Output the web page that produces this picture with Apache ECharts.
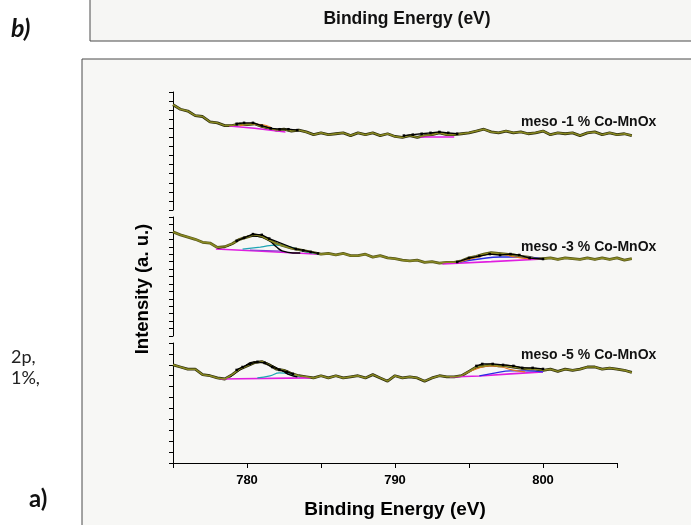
<!DOCTYPE html>
<html>
<head>
<meta charset="utf-8">
<script src="https://cdn.jsdelivr.net/npm/echarts@6/dist/echarts.min.js"></script>
<style>
  html, body { margin: 0; padding: 0; background: #ffffff; }
  #chart { width: 691px; height: 525px; }
</style>
</head>
<body>
<div id="chart"></div>
<script>
// Binding energy grid (eV) shared by the three spectra
const energy = [775, 775.5, 776, 776.5, 777, 777.5, 778, 778.5, 779, 779.5,
  780, 780.5, 781, 781.5, 782, 782.5, 783, 783.5, 784, 784.5,
  785, 785.5, 786, 786.5, 787, 787.5, 788, 788.5, 789, 789.5,
  790, 790.5, 791, 791.5, 792, 792.5, 793, 793.5, 794, 794.5,
  795, 795.5, 796, 796.5, 797, 797.5, 798, 798.5, 799, 799.5,
  800, 800.5, 801, 801.5, 802, 802.5, 803, 803.5, 804, 804.5,
  805, 805.5, 806];

// Sample names, top to bottom
const sampleNames = ['meso -1 % Co-MnOx', 'meso -3 % Co-MnOx', 'meso -5 % Co-MnOx'];

// Bottom axis tick labels
const xTickLabels = [780, 790, 800];

// Co 2p spectra (a. u.)
const raw1 = [116, 111, 109, 104, 103, 97, 96, 93, 93, 95,
  94, 95, 92, 90, 88, 89, 87, 88, 86, 83,
  85, 83, 84, 85, 82, 85, 83, 85, 82, 84,
  81, 80, 82, 80, 82, 83, 85, 83, 83, 84,
  85, 87, 89, 86, 85, 87, 85, 86, 84, 85,
  87, 83, 85, 84, 85, 82, 85, 86, 83, 85,
  83, 84, 82];
const raw2 = [140, 136, 133, 130, 126, 125, 119, 120, 124, 130,
  133, 136, 134, 129, 124, 121, 118, 116, 114, 112,
  110, 111, 109, 111, 108, 108, 110, 106, 108, 105,
  104, 102, 101, 102, 99, 100, 98, 99, 99, 101,
  105, 107, 110, 112, 111, 110, 109, 107, 106, 104,
  104, 105, 103, 105, 104, 103, 105, 103, 105, 103,
  105, 102, 104];
const raw3 = [90, 88, 86, 86, 81, 80, 78, 77, 81, 86,
  89, 92, 93, 90, 86, 85, 82, 80, 79, 78,
  80, 78, 80, 78, 79, 80, 78, 81, 78, 75,
  80, 78, 79, 78, 75, 78, 80, 79, 79, 80,
  84, 88, 89, 90, 89, 89, 88, 87, 86, 86,
  85, 86, 84, 86, 85, 86, 88, 88, 86, 87,
  86, 85, 83];

// Peak fitting, 1 % sample
const fit1BaseE = [778.8, 780.5, 782.6];
const fit1Base = [92.5, 90, 86];
const fit1OrangeE = [779.5, 780.2, 781, 781.6];
const fit1Orange = [92.5, 94.5, 94, 91];
const fit1PtsE = [779.3, 779.8, 780.4, 781, 781.6, 782.2, 782.8, 783.4];
const fit1Pts = [95, 96, 96, 93, 90, 89, 89, 88];
const fit1Base2E = [791.7, 794];
const fit1Base2 = [80.4, 80.4];
const fit1Pts2E = [790.6, 791.2, 791.8, 792.4, 793, 793.6, 794.2];
const fit1Pts2 = [82, 83, 84, 85, 86, 85, 84];

// Peak fitting, 3 % sample
const fit2BaseE = [777.9, 781, 784.9];
const fit2Base = [117, 114, 110];
const fit2PurpleE = [780.2, 782.4];
const fit2Purple = [115.6, 114.2];
const fit2MainE = [778, 778.85, 779.7, 780.4, 781, 781.55, 782, 782.4, 783.1, 783.6];
const fit2Main = [118.3, 122.3, 131.7, 134.4, 133, 127.7, 119.6, 114.2, 111.6, 111.6];
const fit2CyanE = [779.7, 780.9, 782, 782.9, 784, 784.9];
const fit2Cyan = [116.9, 119.6, 122.3, 119.6, 112.9, 110.2];
const fit2PtsE = [779.3, 779.8, 780.4, 781, 781.5, 783.3, 783.8, 784.3, 784.8];
const fit2Pts = [128, 132, 137, 136, 131, 117, 115, 113, 111];
const fit2Base2E = [793.2, 796.5, 800];
const fit2Base2 = [96.8, 100, 103.5];
const fit2BlueE = [794.4, 795.7, 797.1, 798.4, 800];
const fit2Blue = [99.5, 103.5, 106.2, 106.2, 103.5];
const fit2OrangeE = [794.4, 795.6, 796.4, 797.1, 798.1, 799.1];
const fit2Orange = [99.5, 106.2, 110.2, 110.2, 106.2, 103.5];
const fit2Pts2E = [794.2, 795, 795.7, 796.4, 797.1, 797.8, 798.4, 799.1, 800];
const fit2Pts2 = [99.5, 104.8, 107.5, 110.2, 108.9, 110.2, 108.9, 104.8, 103.5];

// Peak fitting, 5 % sample
const fit3BaseE = [778.2, 784.3];
const fit3Base = [77, 78];
const fit3MainE = [778.85, 779.7, 780.5, 781, 781.7, 782.4, 782.9, 783.4];
const fit3Main = [78.9, 87.2, 92.7, 92.7, 89, 84.4, 80.7, 78.9];
const fit3CyanE = [780.7, 781.55, 782.2, 782.9, 783.6];
const fit3Cyan = [78, 79.8, 82.6, 81.7, 78.9];
const fit3PtsE = [779.3, 779.7, 780.2, 780.7, 781.2, 781.7, 782.2, 782.7, 783.1];
const fit3Pts = [85.3, 88, 90.8, 92.7, 91.7, 88, 85.3, 83.5, 81.7];
const fit3Base2E = [793.7, 795.7, 797.8, 800];
const fit3Base2 = [78.9, 79.8, 81.7, 83.5];
const fit3BlueE = [795.7, 796.8, 797.8, 798.8, 800];
const fit3Blue = [79.8, 82.6, 84.4, 84.4, 83.5];
const fit3OrangeE = [794.7, 795.5, 796.4, 797.2, 797.9, 798.8];
const fit3Orange = [81.7, 86.2, 89, 88, 85.3, 83.5];
const fit3Pts2E = [795.5, 795.9, 796.6, 797.3, 798, 798.6, 799.3, 800];
const fit3Pts2 = [89, 90.8, 90.8, 89.9, 89, 87.2, 87.2, 86.2];

// Vertical range of each stacked panel
const panelMax = [130, 160, 110];

const pairs = (xs, ys) => xs.map((x, i) => [x, ys[i]]);

const OLIVE = '#8a8a22';
const MAGENTA = '#e01ee0';
const BLUE = '#2a2ae6';
const CYAN = '#1ea5b4';
const ORANGE = '#e6781e';
const PURPLE = '#8a3cd2';

// Axis frame spans 775-805 eV; the spectra run on to 806 eV, so they sit
// in companion grids (3..5) with the same scale but one more eV of width.
const X_MIN = 775, X_MAX = 805, DATA_MAX = 806;
const PLOT_LEFT = 173, PLOT_WIDTH = 444;
const PX_PER_EV = PLOT_WIDTH / (X_MAX - X_MIN);

function line(panel, data, color, width, extra) {
  const g = panel + 3;
  return Object.assign({
    type: 'line', xAxisIndex: g, yAxisIndex: g, data: data,
    showSymbol: false, symbol: 'none', clip: false, silent: true,
    lineStyle: { color: color, width: width }
  }, extra || {});
}
function dots(panel, data) {
  return line(panel, data, '#000', 1.3, {
    showSymbol: true, symbol: 'rect', symbolSize: 2.5,
    itemStyle: { color: '#000' }
  });
}
function spectrum(panel, values, edge) {
  const d = pairs(energy, values);
  return [line(panel, d, edge, 2.8), line(panel, d, OLIVE, 1.5)];
}

const s1 = spectrum(0, raw1, '#2a2a0c');
const s2 = spectrum(1, raw2, '#55551a');
const s3 = spectrum(2, raw3, '#2a2a0c');

const series = [
  // 1 %
  s1[0],
  line(0, pairs(fit1BaseE, fit1Base), MAGENTA, 1.5),
  line(0, pairs(fit1OrangeE, fit1Orange), ORANGE, 1.2, { smooth: true }),
  line(0, pairs(fit1Base2E, fit1Base2), MAGENTA, 1.5),
  s1[1],
  dots(0, pairs(fit1PtsE, fit1Pts)),
  dots(0, pairs(fit1Pts2E, fit1Pts2)),
  // 3 %
  s2[0],
  line(1, pairs(fit2BaseE, fit2Base), MAGENTA, 1.6),
  line(1, pairs(fit2PurpleE, fit2Purple), PURPLE, 1.2),
  line(1, pairs(fit2CyanE, fit2Cyan), CYAN, 1.2, { smooth: true }),
  line(1, pairs(fit2MainE, fit2Main), '#000', 1.4, { smooth: true }),
  line(1, pairs(fit2Base2E, fit2Base2), MAGENTA, 1.6),
  line(1, pairs(fit2BlueE, fit2Blue), BLUE, 1.4, { smooth: true }),
  line(1, pairs(fit2OrangeE, fit2Orange), ORANGE, 1.2, { smooth: true }),
  s2[1],
  dots(1, pairs(fit2PtsE, fit2Pts)),
  dots(1, pairs(fit2Pts2E, fit2Pts2)),
  // 5 %
  s3[0],
  line(2, pairs(fit3BaseE, fit3Base), MAGENTA, 1.6),
  line(2, pairs(fit3CyanE, fit3Cyan), CYAN, 1.2, { smooth: true }),
  line(2, pairs(fit3MainE, fit3Main), '#000', 1.4, { smooth: true }),
  line(2, pairs(fit3Base2E, fit3Base2), MAGENTA, 1.6),
  line(2, pairs(fit3BlueE, fit3Blue), BLUE, 1.2, { smooth: true }),
  line(2, pairs(fit3OrangeE, fit3Orange), ORANGE, 1.2, { smooth: true }),
  s3[1],
  dots(2, pairs(fit3PtsE, fit3Pts)),
  dots(2, pairs(fit3Pts2E, fit3Pts2))
];

const panelTops = [92, 217, 343];
const panelHeights = [118, 119, 120];
const labelY = [122, 247, 355];

const frameGrids = panelTops.map((t, i) => ({ left: PLOT_LEFT, top: t, width: PLOT_WIDTH, height: panelHeights[i] }));
const dataGrids = panelTops.map((t, i) => ({
  left: PLOT_LEFT, top: t, width: PX_PER_EV * (DATA_MAX - X_MIN), height: panelHeights[i]
}));

const frameX = [0, 1, 2].map(i => ({
  type: 'value', gridIndex: i, min: X_MIN, max: X_MAX, interval: 5,
  show: i === 2,
  axisLine: { show: true, onZero: false, lineStyle: { color: '#000', width: 1 } },
  axisTick: { show: true, inside: false, length: 5, lineStyle: { color: '#000' } },
  splitLine: { show: false },
  axisLabel: {
    show: true, margin: 11, color: '#000',
    fontFamily: 'Liberation Sans', fontSize: 13, fontWeight: 'bold',
    formatter: v => (xTickLabels.indexOf(v) >= 0 ? String(v) : '')
  },
  name: i === 2 ? 'Binding Energy (eV)' : '',
  nameLocation: 'middle', nameGap: 37,
  nameTextStyle: { color: '#000', fontFamily: 'Liberation Sans', fontSize: 19, fontWeight: 'bold' }
}));
const dataX = [0, 1, 2].map(i => ({
  type: 'value', gridIndex: i + 3, min: X_MIN, max: DATA_MAX, show: false,
  splitLine: { show: false }
}));

const frameY = [0, 1, 2].map(i => ({
  type: 'value', gridIndex: i, min: 0, max: panelMax[i], interval: 10,
  axisLine: { show: true, onZero: false, lineStyle: { color: '#000', width: 1 } },
  axisTick: { show: true, inside: false, length: 4, lineStyle: { color: '#000' } },
  axisLabel: { show: false },
  splitLine: { show: false }
}));
const dataY = [0, 1, 2].map(i => ({
  type: 'value', gridIndex: i + 3, min: 0, max: panelMax[i], show: false,
  splitLine: { show: false }
}));

const graphics = [
  // upper framed panel
  { type: 'rect', z: -10, shape: { x: 90, y: -5, width: 700, height: 46 },
    style: { fill: '#f6f6f4', stroke: '#4a4a4a', lineWidth: 1 } },
  { type: 'text', z: 10, x: 407, y: 19,
    style: { text: 'Binding Energy (eV)', fill: '#111', font: 'bold 17.5px "Liberation Sans"',
             textAlign: 'center', textVerticalAlign: 'middle' } },
  { type: 'text', z: 10, x: 11, y: 29,
    style: { text: 'b)', fill: '#111', font: 'italic bold 25px Lato',
             textAlign: 'left', textVerticalAlign: 'middle' } },
  // main framed panel
  { type: 'rect', z: -10, shape: { x: 82, y: 59, width: 700, height: 500 },
    style: { fill: '#f7f7f5', stroke: '#4a4a4a', lineWidth: 1 } },
  { type: 'text', z: 10, x: 143, y: 289, rotation: Math.PI / 2,
    style: { text: 'Intensity (a. u.)', fill: '#000', font: 'bold 18.5px "Liberation Sans"',
             textAlign: 'center', textVerticalAlign: 'middle' } },
  { type: 'text', z: 10, x: 11, y: 357,
    style: { text: '2p,', fill: '#222', font: '18px Lato',
             textAlign: 'left', textVerticalAlign: 'middle' } },
  { type: 'text', z: 10, x: 11, y: 378,
    style: { text: '1%,', fill: '#222', font: '18px Lato',
             textAlign: 'left', textVerticalAlign: 'middle' } },
  { type: 'text', z: 10, x: 29, y: 499,
    style: { text: 'a)', fill: '#111', font: 'bold 24px Lato',
             textAlign: 'left', textVerticalAlign: 'middle' } }
].concat(sampleNames.map((n, i) => ({
  type: 'text', z: 10, x: 521, y: labelY[i],
  style: { text: n, fill: '#111', font: 'bold 14px "Liberation Sans"',
           textAlign: 'left', textVerticalAlign: 'middle' }
})));

const chart = echarts.init(document.getElementById('chart'), null, { renderer: 'canvas' });
chart.setOption({
  animation: false,
  backgroundColor: '#ffffff',
  grid: frameGrids.concat(dataGrids),
  xAxis: frameX.concat(dataX),
  yAxis: frameY.concat(dataY),
  series: series,
  graphic: graphics
});
</script>
</body>
</html>
